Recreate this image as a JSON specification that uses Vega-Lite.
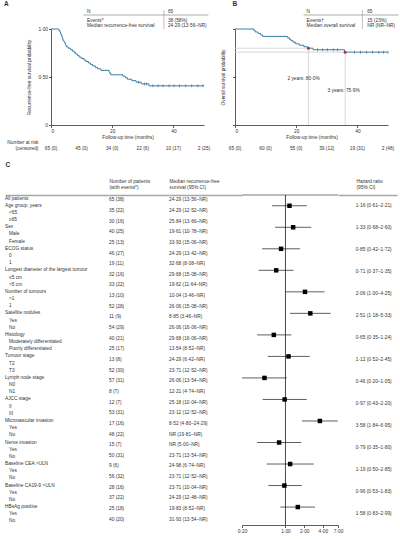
{
  "$schema": "https://vega.github.io/schema/vega-lite/v6.json",
  "background": "white",
  "padding": {"left": 3, "top": 1, "right": 0, "bottom": 0},
  "datasets": {
    "kmA": [
      {"t": 0, "s": 1}, {"t": 2.6, "s": 0.985}, {"t": 2.9, "s": 0.969}, {"t": 3.1, "s": 0.954},
      {"t": 3.3, "s": 0.938}, {"t": 3.5, "s": 0.923}, {"t": 3.7, "s": 0.908}, {"t": 3.8, "s": 0.892},
      {"t": 4.0, "s": 0.877}, {"t": 4.3, "s": 0.862}, {"t": 4.6, "s": 0.846}, {"t": 4.8, "s": 0.831},
      {"t": 5.0, "s": 0.815}, {"t": 5.6, "s": 0.8}, {"t": 6.4, "s": 0.785}, {"t": 7.0, "s": 0.769},
      {"t": 7.6, "s": 0.754}, {"t": 8.1, "s": 0.738}, {"t": 8.7, "s": 0.723}, {"t": 9.2, "s": 0.708},
      {"t": 9.9, "s": 0.692}, {"t": 10.8, "s": 0.677}, {"t": 11.4, "s": 0.662}, {"t": 12.2, "s": 0.646},
      {"t": 12.9, "s": 0.631}, {"t": 13.6, "s": 0.615}, {"t": 14.5, "s": 0.6}, {"t": 15.2, "s": 0.585},
      {"t": 16.3, "s": 0.569}, {"t": 19.0, "s": 0.554}, {"t": 19.2, "s": 0.538}, {"t": 19.5, "s": 0.523},
      {"t": 23.5, "s": 0.508}, {"t": 24.29, "s": 0.492}, {"t": 25.0, "s": 0.477}, {"t": 26.4, "s": 0.462},
      {"t": 27.8, "s": 0.446}, {"t": 29.5, "s": 0.428}, {"t": 32.0, "s": 0.408}, {"t": 50, "s": 0.408}
    ],
    "censA": [
      {"t": 28.6, "s": 0.446}, {"t": 30.6, "s": 0.428}, {"t": 31.2, "s": 0.428}, {"t": 33.3, "s": 0.408},
      {"t": 35, "s": 0.408}, {"t": 36.6, "s": 0.408}, {"t": 38.6, "s": 0.408}, {"t": 40.2, "s": 0.408},
      {"t": 42, "s": 0.408}, {"t": 44, "s": 0.408}, {"t": 46, "s": 0.408}, {"t": 48, "s": 0.408},
      {"t": 49.7, "s": 0.408}
    ],
    "kmB": [
      {"t": 0, "s": 1}, {"t": 6.2, "s": 0.985}, {"t": 6.6, "s": 0.969}, {"t": 7.5, "s": 0.954},
      {"t": 8.4, "s": 0.938}, {"t": 9.0, "s": 0.923}, {"t": 17.2, "s": 0.908}, {"t": 17.8, "s": 0.892},
      {"t": 18.3, "s": 0.877}, {"t": 19.0, "s": 0.862}, {"t": 19.8, "s": 0.846}, {"t": 21.0, "s": 0.831},
      {"t": 22.5, "s": 0.815}, {"t": 23.8, "s": 0.8}, {"t": 25.5, "s": 0.784}, {"t": 35.8, "s": 0.759},
      {"t": 50, "s": 0.759}
    ],
    "censB": [
      {"t": 27, "s": 0.784}, {"t": 28.6, "s": 0.784}, {"t": 30.2, "s": 0.784}, {"t": 32.1, "s": 0.784},
      {"t": 33.5, "s": 0.784}, {"t": 39, "s": 0.759}, {"t": 41, "s": 0.759}, {"t": 43, "s": 0.759},
      {"t": 45, "s": 0.759}, {"t": 47, "s": 0.759}, {"t": 48.5, "s": 0.759}, {"t": 50, "s": 0.759}
    ],
    "milestones": [
      {"t": 24, "s": 0.8},
      {"t": 36, "s": 0.759}
    ],
    "riskA": [
      {"t": 0, "n": "65 (0)"}, {"t": 10, "n": "45 (0)"}, {"t": 20, "n": "34 (0)"},
      {"t": 30, "n": "22 (6)"}, {"t": 40, "n": "10 (17)"}, {"t": 50, "n": "2 (25)"}
    ],
    "riskB": [
      {"t": 0, "n": "65 (0)"}, {"t": 10, "n": "60 (0)"}, {"t": 20, "n": "55 (0)"},
      {"t": 30, "n": "39 (12)"}, {"t": 40, "n": "19 (31)"}, {"t": 50, "n": "2 (48)"}
    ],
    "tblA": [
      {"row": "N", "value": "65"},
      {"row": "Events*", "value": "38 (58%)"},
      {"row": "Median recurrence-free survival", "value": "24·29 (13·56–NR)"}
    ],
    "tblB": [
      {"row": "N", "value": "65"},
      {"row": "Events†", "value": "15 (23%)"},
      {"row": "Median overall survival", "value": "NR (NR–NR)"}
    ],
    "forest": [
      {"id": 1, "label": "All patients", "level": 0, "n": "65 (38)", "med": "24·29 (13·56–NR)"},
      {"id": 2, "label": "Age group, years", "level": 0, "hr": "1·16 (0·61–2·21)", "est": 1.16, "lo": 0.61, "hi": 2.21},
      {"id": 3, "label": "<65", "level": 1, "n": "35 (22)", "med": "24·29 (12·52–NR)"},
      {"id": 4, "label": "≥65", "level": 1, "n": "30 (16)", "med": "25·84 (13·66–NR)"},
      {"id": 5, "label": "Sex", "level": 0, "hr": "1·33 (0·68–2·60)", "est": 1.33, "lo": 0.68, "hi": 2.6},
      {"id": 6, "label": "Male", "level": 1, "n": "40 (25)", "med": "19·61 (10·78–NR)"},
      {"id": 7, "label": "Female", "level": 1, "n": "25 (13)", "med": "33·93 (15·06–NR)"},
      {"id": 8, "label": "ECOG status", "level": 0, "hr": "0·85 (0·42–1·72)", "est": 0.85, "lo": 0.42, "hi": 1.72},
      {"id": 9, "label": "0", "level": 1, "n": "46 (27)", "med": "24·29 (13·42–NR)"},
      {"id": 10, "label": "1", "level": 1, "n": "19 (11)", "med": "32·68 (8·08–NR)"},
      {"id": 11, "label": "Longest diameter of the largest tumour", "level": 0, "hr": "0·71 (0·37–1·35)", "est": 0.71, "lo": 0.37, "hi": 1.35},
      {"id": 12, "label": "≤5 cm", "level": 1, "n": "32 (16)", "med": "29·68 (15·08–NR)"},
      {"id": 13, "label": ">5 cm", "level": 1, "n": "33 (22)", "med": "19·62 (11·64–NR)"},
      {"id": 14, "label": "Number of tumours", "level": 0, "hr": "2·06 (1·00–4·25)", "est": 2.06, "lo": 1.0, "hi": 4.25},
      {"id": 15, "label": ">1", "level": 1, "n": "13 (10)", "med": "10·04 (3·46–NR)"},
      {"id": 16, "label": "1", "level": 1, "n": "52 (28)", "med": "26·06 (15·08–NR)"},
      {"id": 17, "label": "Satellite nodules", "level": 0, "hr": "2·51 (1·18–5·33)", "est": 2.51, "lo": 1.18, "hi": 5.33},
      {"id": 18, "label": "Yes", "level": 1, "n": "11 (9)", "med": "8·85 (3·46–NR)"},
      {"id": 19, "label": "No", "level": 1, "n": "54 (29)", "med": "26·06 (16·06–NR)"},
      {"id": 20, "label": "Histology", "level": 0, "hr": "0·65 (0·35–1·24)", "est": 0.65, "lo": 0.35, "hi": 1.24},
      {"id": 21, "label": "Moderately differentiated", "level": 1, "n": "40 (21)", "med": "29·68 (16·06–NR)"},
      {"id": 22, "label": "Poorly differentiated", "level": 1, "n": "25 (17)", "med": "13·54 (8·52–NR)"},
      {"id": 23, "label": "Tumour stage", "level": 0, "hr": "1·12 (0·52–2·45)", "est": 1.12, "lo": 0.52, "hi": 2.45},
      {"id": 24, "label": "T2", "level": 1, "n": "13 (8)", "med": "24·29 (6·42–NR)"},
      {"id": 25, "label": "T3", "level": 1, "n": "52 (30)", "med": "23·71 (12·52–NR)"},
      {"id": 26, "label": "Lymph node stage", "level": 0, "hr": "0·46 (0·20–1·05)", "est": 0.46, "lo": 0.2, "hi": 1.05},
      {"id": 27, "label": "N0", "level": 1, "n": "57 (31)", "med": "26·06 (13·54–NR)"},
      {"id": 28, "label": "N1", "level": 1, "n": "8 (7)", "med": "12·21 (4·74–NR)"},
      {"id": 29, "label": "AJCC stage", "level": 0, "hr": "0·97 (0·43–2·20)", "est": 0.97, "lo": 0.43, "hi": 2.2},
      {"id": 30, "label": "II", "level": 1, "n": "12 (7)", "med": "25·18 (10·04–NR)"},
      {"id": 31, "label": "III", "level": 1, "n": "53 (31)", "med": "23·12 (12·52–NR)"},
      {"id": 32, "label": "Microvascular invasion", "level": 0, "hr": "3·58 (1·84–6·95)", "est": 3.58, "lo": 1.84, "hi": 6.95},
      {"id": 33, "label": "Yes", "level": 1, "n": "17 (16)", "med": "8·52 (4·80–24·29)"},
      {"id": 34, "label": "No", "level": 1, "n": "48 (22)", "med": "NR (19·81–NR)"},
      {"id": 35, "label": "Nerve invasion", "level": 0, "hr": "0·79 (0·35–1·80)", "est": 0.79, "lo": 0.35, "hi": 1.8},
      {"id": 36, "label": "Yes", "level": 1, "n": "15 (7)", "med": "NR (5·00–NR)"},
      {"id": 37, "label": "No", "level": 1, "n": "50 (31)", "med": "23·71 (13·54–NR)"},
      {"id": 38, "label": "Baseline CEA >ULN", "level": 0, "hr": "1·19 (0·50–2·85)", "est": 1.19, "lo": 0.5, "hi": 2.85},
      {"id": 39, "label": "Yes", "level": 1, "n": "9 (6)", "med": "24·98 (6·74–NR)"},
      {"id": 40, "label": "No", "level": 1, "n": "56 (32)", "med": "23·71 (12·52–NR)"},
      {"id": 41, "label": "Baseline CA19-9 >ULN", "level": 0, "hr": "0·96 (0·53–1·83)", "est": 0.96, "lo": 0.53, "hi": 1.83},
      {"id": 42, "label": "Yes", "level": 1, "n": "28 (16)", "med": "23·71 (10·04–NR)"},
      {"id": 43, "label": "No", "level": 1, "n": "37 (22)", "med": "24·29 (12·48–NR)"},
      {"id": 44, "label": "HBsAg positive", "level": 0, "hr": "1·58 (0·83–2·99)", "est": 1.58, "lo": 0.83, "hi": 2.99},
      {"id": 45, "label": "Yes", "level": 1, "n": "25 (18)", "med": "19·83 (8·52–NR)"},
      {"id": 46, "label": "No", "level": 1, "n": "40 (20)", "med": "31·93 (13·54–NR)"}
    ]
  },
  "spacing": 10,
  "vconcat": [
    {
      "bounds": "flush",
      "spacing": 31,
      "hconcat": [
        {
          "width": 15,
          "height": 96,
          "data": {"values": []},
          "mark": {"type": "point"}
        },
        {
          "width": 153,
          "height": 96,
          "layer": [
            {
              "data": {"name": "kmA"},
              "mark": {"type": "line", "interpolate": "step-after", "color": "#3b7ea6", "strokeWidth": 1},
              "encoding": {
                "x": {"field": "t", "type": "quantitative", "scale": {"domain": [0, 50]},
                  "axis": {"values": [0, 10, 20, 30, 40, 50], "title": "Follow-up time (months)", "titlePadding": 1}},
                "y": {"field": "s", "type": "quantitative", "scale": {"domain": [0, 1]},
                  "axis": {"values": [0, 0.25, 0.5, 0.75, 1], "labelExpr": "datum.value == 0 ? '0' : replace(format(datum.value, '.2f'), '.', '·')", "title": "Recurrence-free survival probability", "titlePadding": 6}}
              }
            },
            {
              "data": {"name": "censA"},
              "mark": {"type": "tick", "orient": "vertical", "size": 3, "thickness": 0.8, "color": "#2a5f82"},
              "encoding": {
                "x": {"field": "t", "type": "quantitative", "scale": {"domain": [0, 50]}},
                "y": {"field": "s", "type": "quantitative", "scale": {"domain": [0, 1]}}
              }
            },
            {
              "data": {"name": "riskA"},
              "mark": {"type": "text", "align": "center"},
              "encoding": {
                "x": {"field": "t", "type": "quantitative", "scale": {"domain": [0, 50]}},
                "y": {"datum": -0.25, "type": "quantitative", "scale": {"domain": [0, 1]}},
                "text": {"field": "n"}
              }
            },
            {
              "data": {"values": [{}]},
              "mark": {"type": "text", "align": "right"},
              "encoding": {
                "x": {"datum": -4.1, "type": "quantitative", "scale": {"domain": [0, 50]}},
                "y": {"datum": -0.19, "type": "quantitative", "scale": {"domain": [0, 1]}},
                "text": {"value": "Number at risk"}
              }
            },
            {
              "data": {"values": [{}]},
              "mark": {"type": "text", "align": "right"},
              "encoding": {
                "x": {"datum": -4.1, "type": "quantitative", "scale": {"domain": [0, 50]}},
                "y": {"datum": -0.25, "type": "quantitative", "scale": {"domain": [0, 1]}},
                "text": {"value": "(censored)"}
              }
            },
            {
              "data": {"values": [{}]},
              "mark": {"type": "text", "align": "left", "fontWeight": "bold", "fontSize": 6.5},
              "encoding": {
                "x": {"datum": -15.4, "type": "quantitative", "scale": {"domain": [0, 50]}},
                "y": {"datum": 1.26, "type": "quantitative", "scale": {"domain": [0, 1]}},
                "text": {"value": "A"}
              }
            },
            {
              "data": {"values": [{}]},
              "mark": {"type": "tick", "orient": "horizontal", "size": 125, "thickness": 0.8, "color": "#8c8c8c"},
              "encoding": {
                "x": {"datum": 31, "type": "quantitative", "scale": {"domain": [0, 50]}},
                "y": {"datum": 1.146, "type": "quantitative", "scale": {"domain": [0, 1]}}
              }
            },
            {
              "data": {"values": [{}]},
              "mark": {"type": "tick", "orient": "vertical", "size": 19, "thickness": 0.8, "color": "#8c8c8c"},
              "encoding": {
                "x": {"datum": 36.9, "type": "quantitative", "scale": {"domain": [0, 50]}},
                "y": {"datum": 1.1, "type": "quantitative", "scale": {"domain": [0, 1]}}
              }
            },
            {
              "data": {"name": "tblA"},
              "transform": [{"filter": "datum.row == 'N'"}],
              "mark": {"type": "text", "align": "left"},
              "encoding": {
                "x": {"datum": 11.8, "type": "quantitative", "scale": {"domain": [0, 50]}},
                "y": {"datum": 1.177, "type": "quantitative", "scale": {"domain": [0, 1]}},
                "text": {"field": "row"}
              }
            },
            {
              "data": {"name": "tblA"},
              "transform": [{"filter": "datum.row == 'Events*'"}],
              "mark": {"type": "text", "align": "left"},
              "encoding": {
                "x": {"datum": 11.8, "type": "quantitative", "scale": {"domain": [0, 50]}},
                "y": {"datum": 1.079, "type": "quantitative", "scale": {"domain": [0, 1]}},
                "text": {"field": "row"}
              }
            },
            {
              "data": {"name": "tblA"},
              "transform": [{"filter": "datum.row == 'Median recurrence-free survival'"}],
              "mark": {"type": "text", "align": "left"},
              "encoding": {
                "x": {"datum": 11.8, "type": "quantitative", "scale": {"domain": [0, 50]}},
                "y": {"datum": 1.03, "type": "quantitative", "scale": {"domain": [0, 1]}},
                "text": {"field": "row"}
              }
            },
            {
              "data": {"name": "tblA"},
              "transform": [{"filter": "datum.row == 'N'"}],
              "mark": {"type": "text", "align": "left"},
              "encoding": {
                "x": {"datum": 38.2, "type": "quantitative", "scale": {"domain": [0, 50]}},
                "y": {"datum": 1.177, "type": "quantitative", "scale": {"domain": [0, 1]}},
                "text": {"field": "value"}
              }
            },
            {
              "data": {"name": "tblA"},
              "transform": [{"filter": "datum.row == 'Events*'"}],
              "mark": {"type": "text", "align": "left"},
              "encoding": {
                "x": {"datum": 38.2, "type": "quantitative", "scale": {"domain": [0, 50]}},
                "y": {"datum": 1.079, "type": "quantitative", "scale": {"domain": [0, 1]}},
                "text": {"field": "value"}
              }
            },
            {
              "data": {"name": "tblA"},
              "transform": [{"filter": "datum.row == 'Median recurrence-free survival'"}],
              "mark": {"type": "text", "align": "left"},
              "encoding": {
                "x": {"datum": 38.2, "type": "quantitative", "scale": {"domain": [0, 50]}},
                "y": {"datum": 1.03, "type": "quantitative", "scale": {"domain": [0, 1]}},
                "text": {"field": "value"}
              }
            }
          ]
        },
        {
          "width": 153,
          "height": 96,
          "layer": [
            {
              "data": {"name": "milestones"},
              "mark": {"type": "rule", "color": "#cfcfcf", "strokeWidth": 0.8},
              "encoding": {
                "x": {"field": "t", "type": "quantitative", "scale": {"domain": [0, 50]}},
                "x2": {"datum": 0},
                "y": {"field": "s", "type": "quantitative", "scale": {"domain": [0, 1]}}
              }
            },
            {
              "data": {"name": "milestones"},
              "mark": {"type": "rule", "color": "#cfcfcf", "strokeWidth": 0.8},
              "encoding": {
                "x": {"field": "t", "type": "quantitative", "scale": {"domain": [0, 50]}},
                "y": {"field": "s", "type": "quantitative", "scale": {"domain": [0, 1]}},
                "y2": {"datum": 0}
              }
            },
            {
              "data": {"name": "kmB"},
              "mark": {"type": "line", "interpolate": "step-after", "color": "#3b7ea6", "strokeWidth": 1},
              "encoding": {
                "x": {"field": "t", "type": "quantitative", "scale": {"domain": [0, 50]},
                  "axis": {"values": [0, 10, 20, 30, 40, 50], "title": "Follow-up time (months)", "titlePadding": 1}},
                "y": {"field": "s", "type": "quantitative", "scale": {"domain": [0, 1]},
                  "axis": {"values": [0, 0.25, 0.5, 0.75, 1], "labels": false, "title": "Overall survival probability", "titlePadding": 7}}
              }
            },
            {
              "data": {"name": "censB"},
              "mark": {"type": "tick", "orient": "vertical", "size": 3, "thickness": 0.8, "color": "#2a5f82"},
              "encoding": {
                "x": {"field": "t", "type": "quantitative", "scale": {"domain": [0, 50]}},
                "y": {"field": "s", "type": "quantitative", "scale": {"domain": [0, 1]}}
              }
            },
            {
              "data": {"name": "milestones"},
              "mark": {"type": "point", "filled": true, "color": "#d0252e", "size": 9, "opacity": 1},
              "encoding": {
                "x": {"field": "t", "type": "quantitative", "scale": {"domain": [0, 50]}},
                "y": {"field": "s", "type": "quantitative", "scale": {"domain": [0, 1]}}
              }
            },
            {
              "data": {"values": [{}]},
              "mark": {"type": "text", "align": "center"},
              "encoding": {
                "x": {"datum": 22.4, "type": "quantitative", "scale": {"domain": [0, 50]}},
                "y": {"datum": 0.48, "type": "quantitative", "scale": {"domain": [0, 1]}},
                "text": {"value": "2 years: 80·0%"}
              }
            },
            {
              "data": {"values": [{}]},
              "mark": {"type": "text", "align": "center"},
              "encoding": {
                "x": {"datum": 35.5, "type": "quantitative", "scale": {"domain": [0, 50]}},
                "y": {"datum": 0.355, "type": "quantitative", "scale": {"domain": [0, 1]}},
                "text": {"value": "3 years: 75·9%"}
              }
            },
            {
              "data": {"name": "riskB"},
              "mark": {"type": "text", "align": "center"},
              "encoding": {
                "x": {"field": "t", "type": "quantitative", "scale": {"domain": [0, 50]}},
                "y": {"datum": -0.25, "type": "quantitative", "scale": {"domain": [0, 1]}},
                "text": {"field": "n"}
              }
            },
            {
              "data": {"values": [{}]},
              "mark": {"type": "text", "align": "left", "fontWeight": "bold", "fontSize": 6.5},
              "encoding": {
                "x": {"datum": -0.8, "type": "quantitative", "scale": {"domain": [0, 50]}},
                "y": {"datum": 1.26, "type": "quantitative", "scale": {"domain": [0, 1]}},
                "text": {"value": "B"}
              }
            },
            {
              "data": {"values": [{}]},
              "mark": {"type": "tick", "orient": "horizontal", "size": 95, "thickness": 0.8, "color": "#8c8c8c"},
              "encoding": {
                "x": {"datum": 37.95, "type": "quantitative", "scale": {"domain": [0, 50]}},
                "y": {"datum": 1.146, "type": "quantitative", "scale": {"domain": [0, 1]}}
              }
            },
            {
              "data": {"values": [{}]},
              "mark": {"type": "tick", "orient": "vertical", "size": 19, "thickness": 0.8, "color": "#8c8c8c"},
              "encoding": {
                "x": {"datum": 41.6, "type": "quantitative", "scale": {"domain": [0, 50]}},
                "y": {"datum": 1.1, "type": "quantitative", "scale": {"domain": [0, 1]}}
              }
            },
            {
              "data": {"name": "tblB"},
              "transform": [{"filter": "datum.row == 'N'"}],
              "mark": {"type": "text", "align": "left"},
              "encoding": {
                "x": {"datum": 23.4, "type": "quantitative", "scale": {"domain": [0, 50]}},
                "y": {"datum": 1.177, "type": "quantitative", "scale": {"domain": [0, 1]}},
                "text": {"field": "row"}
              }
            },
            {
              "data": {"name": "tblB"},
              "transform": [{"filter": "datum.row == 'Events†'"}],
              "mark": {"type": "text", "align": "left"},
              "encoding": {
                "x": {"datum": 23.4, "type": "quantitative", "scale": {"domain": [0, 50]}},
                "y": {"datum": 1.079, "type": "quantitative", "scale": {"domain": [0, 1]}},
                "text": {"field": "row"}
              }
            },
            {
              "data": {"name": "tblB"},
              "transform": [{"filter": "datum.row == 'Median overall survival'"}],
              "mark": {"type": "text", "align": "left"},
              "encoding": {
                "x": {"datum": 23.4, "type": "quantitative", "scale": {"domain": [0, 50]}},
                "y": {"datum": 1.03, "type": "quantitative", "scale": {"domain": [0, 1]}},
                "text": {"field": "row"}
              }
            },
            {
              "data": {"name": "tblB"},
              "transform": [{"filter": "datum.row == 'N'"}],
              "mark": {"type": "text", "align": "left"},
              "encoding": {
                "x": {"datum": 43.2, "type": "quantitative", "scale": {"domain": [0, 50]}},
                "y": {"datum": 1.177, "type": "quantitative", "scale": {"domain": [0, 1]}},
                "text": {"field": "value"}
              }
            },
            {
              "data": {"name": "tblB"},
              "transform": [{"filter": "datum.row == 'Events†'"}],
              "mark": {"type": "text", "align": "left"},
              "encoding": {
                "x": {"datum": 43.2, "type": "quantitative", "scale": {"domain": [0, 50]}},
                "y": {"datum": 1.079, "type": "quantitative", "scale": {"domain": [0, 1]}},
                "text": {"field": "value"}
              }
            },
            {
              "data": {"name": "tblB"},
              "transform": [{"filter": "datum.row == 'Median overall survival'"}],
              "mark": {"type": "text", "align": "left"},
              "encoding": {
                "x": {"datum": 43.2, "type": "quantitative", "scale": {"domain": [0, 50]}},
                "y": {"datum": 1.03, "type": "quantitative", "scale": {"domain": [0, 1]}},
                "text": {"field": "value"}
              }
            }
          ]
        }
      ]
    },
    {
      "bounds": "flush",
      "spacing": 0,
      "hconcat": [
        {
          "width": 104,
          "height": 330,
          "data": {"name": "forest"},
          "layer": [
            {
              "transform": [{"filter": "datum.level == 0"}],
              "mark": {"type": "text", "align": "left"},
              "encoding": {
                "y": {"field": "id", "type": "ordinal", "axis": null},
                "x": {"datum": 0, "type": "quantitative", "scale": {"domain": [0, 1]},
                  "axis": {"orient": "top", "labels": false, "ticks": false, "domainColor": "#a6a6a6", "domainWidth": 1.5,
                    "title": "C", "titleFontSize": 6.5, "titleFontWeight": "bold", "titlePadding": 28, "titleAnchor": "start", "titleAlign": "left"}},
                "text": {"field": "label"}
              }
            },
            {
              "transform": [{"filter": "datum.level == 1"}],
              "mark": {"type": "text", "align": "left", "dx": 4},
              "encoding": {
                "y": {"field": "id", "type": "ordinal", "axis": null},
                "x": {"datum": 0, "type": "quantitative", "scale": {"domain": [0, 1]}},
                "text": {"field": "label"}
              }
            }
          ]
        },
        {
          "width": 60,
          "height": 330,
          "data": {"name": "forest"},
          "transform": [{"filter": "isValid(datum.n)"}],
          "mark": {"type": "text", "align": "left"},
          "encoding": {
            "y": {"field": "id", "type": "ordinal", "axis": null},
            "x": {"datum": 0, "type": "quantitative", "scale": {"domain": [0, 1]},
              "axis": {"orient": "top", "labels": false, "ticks": false, "domainColor": "#a6a6a6", "domainWidth": 1.5,
                "title": ["Number of patients", "(with events*)"], "titleLineHeight": 6, "titlePadding": 6, "titleAnchor": "start", "titleAlign": "left"}},
            "text": {"field": "n"}
          }
        },
        {
          "width": 73,
          "height": 330,
          "data": {"name": "forest"},
          "transform": [{"filter": "isValid(datum.med)"}],
          "mark": {"type": "text", "align": "left"},
          "encoding": {
            "y": {"field": "id", "type": "ordinal", "axis": null},
            "x": {"datum": 0, "type": "quantitative", "scale": {"domain": [0, 1]},
              "axis": {"orient": "top", "labels": false, "ticks": false, "domainColor": "#a6a6a6", "domainWidth": 1.5,
                "title": ["Median recurrence-free", "survival (95% CI)"], "titleLineHeight": 6, "titlePadding": 6, "titleAnchor": "start", "titleAlign": "left"}},
            "text": {"field": "med"}
          }
        },
        {
          "width": 96,
          "height": 330,
          "data": {"name": "forest"},
          "layer": [
            {
              "mark": {"type": "text"},
              "encoding": {
                "y": {"field": "id", "type": "ordinal", "axis": null},
                "x": {"datum": 1, "type": "quantitative", "scale": {"type": "log", "domain": [0.2, 7]}},
                "text": {"value": ""}
              }
            },
            {
              "transform": [{"filter": "datum.id == 1"}],
              "mark": {"type": "rule", "color": "#a6a6a6", "strokeWidth": 1.5, "yOffset": -3.6},
              "encoding": {
                "y": {"field": "id", "type": "ordinal", "axis": null}
              }
            },
            {
              "transform": [{"filter": "datum.id == 1"}],
              "mark": {"type": "rule", "color": "#1a1a1a", "strokeWidth": 0.8},
              "encoding": {
                "x": {"datum": 1, "type": "quantitative", "scale": {"type": "log", "domain": [0.2, 7]}}
              }
            },
            {
              "transform": [{"filter": "isValid(datum.est)"}],
              "mark": {"type": "rule", "color": "#1a1a1a", "strokeWidth": 0.7},
              "encoding": {
                "y": {"field": "id", "type": "ordinal", "axis": null},
                "x": {"field": "lo", "type": "quantitative", "scale": {"type": "log", "domain": [0.2, 7]}},
                "x2": {"field": "hi"}
              }
            },
            {
              "transform": [{"filter": "isValid(datum.est)"}],
              "mark": {"type": "point", "shape": "square", "filled": true, "color": "#000000", "size": 20, "opacity": 1},
              "encoding": {
                "y": {"field": "id", "type": "ordinal", "axis": null},
                "x": {"field": "est", "type": "quantitative", "scale": {"type": "log", "domain": [0.2, 7]},
                  "axis": {"orient": "bottom", "values": [0.2, 1, 2, 4, 7], "labelExpr": "replace(format(datum.value, '.2f'), '.', '·')", "title": null, "labelFlush": false}}
              }
            }
          ]
        },
        {
          "width": 59,
          "height": 330,
          "data": {"name": "forest"},
          "transform": [{"filter": "isValid(datum.hr)"}],
          "mark": {"type": "text", "align": "left"},
          "encoding": {
            "y": {"field": "id", "type": "ordinal", "axis": null},
            "x": {"datum": 0.3, "type": "quantitative", "scale": {"domain": [0, 1]},
              "axis": {"orient": "top", "labels": false, "ticks": false, "domainColor": "#a6a6a6", "domainWidth": 1.5,
                "title": ["Hazard ratio", "(95% CI)"], "titleLineHeight": 6, "titlePadding": 6, "titleAnchor": "start", "titleAlign": "left", "titleX": 18}},
            "text": {"field": "hr"}
          }
        }
      ]
    }
  ],
  "config": {
    "font": "Liberation Sans",
    "view": {"stroke": null},
    "text": {"fontSize": 4.8, "color": "#333333", "baseline": "middle"},
    "axis": {
      "labelFontSize": 4.8, "titleFontSize": 4.8, "titleFontWeight": "normal",
      "domainColor": "#333333", "tickColor": "#333333", "labelColor": "#333333", "titleColor": "#333333",
      "domainWidth": 0.8, "tickWidth": 0.8, "tickSize": 2.5, "labelPadding": 1, "grid": false
    }
  }
}
